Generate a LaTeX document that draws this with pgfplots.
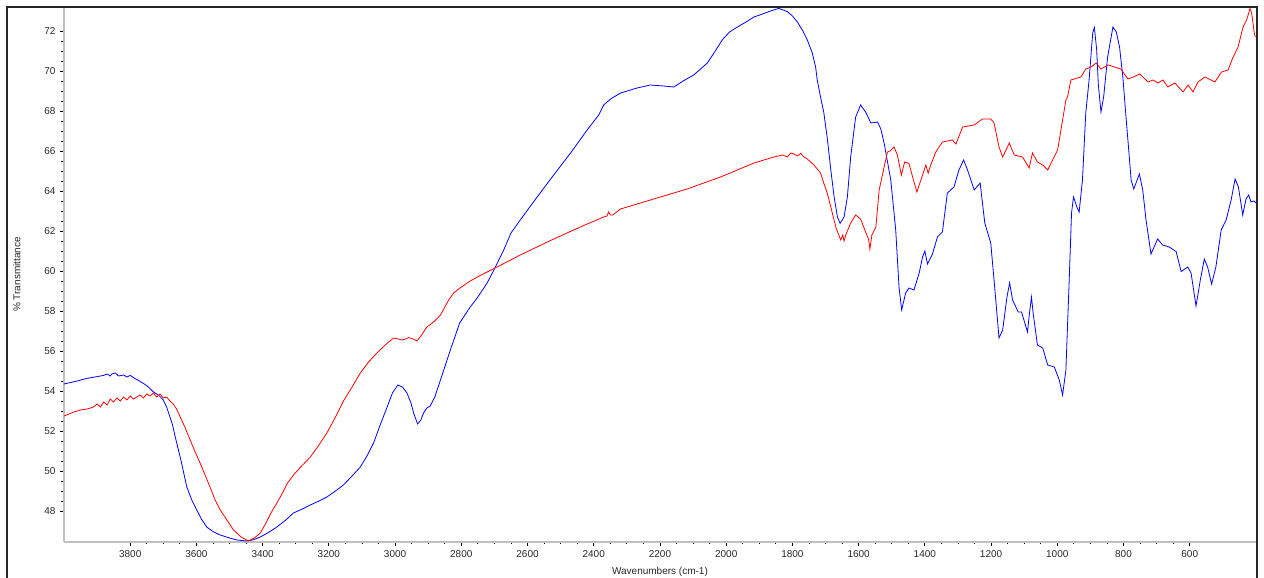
\documentclass[border=0pt]{standalone}
\usepackage{fontspec}
\setmainfont{Liberation Sans}
\usepackage{pgfplots}
\pgfplotsset{compat=1.18}
\definecolor{axgray}{RGB}{192,192,192}
\definecolor{lblgray}{RGB}{40,40,40}
\begin{document}
\begin{tikzpicture}
\path[use as bounding box] (0pt,0pt) rectangle (1264pt,578pt);
\begin{axis}[
  at={(64pt,36pt)}, anchor=south west,
  scale only axis, width=1192pt, height=535pt,
  x dir=reverse,
  xmin=400, xmax=4000, ymin=46.45, ymax=73.2,
  axis x line*=bottom, axis y line*=left,
  axis line style={axgray, line width=2.5pt, -},
  xtick={600,800,...,3800}, ytick={48,50,...,72},
  minor x tick num=3, minor y tick num=3,
  tick align=outside,
  major tick length=4pt, minor tick length=2.5pt,
  tick style={black, line width=0.8pt},
  /pgf/number format/assume math mode=true,
  /pgf/number format/1000 sep={},
  ticklabel style={font=\fontsize{10}{12}\selectfont, text=lblgray},
  xticklabel style={yshift=-1pt},
  yticklabel style={xshift=-1pt},
  xlabel={Wavenumbers (cm-1)},
  ylabel={\% Transmittance},
  label style={font=\fontsize{10}{12}\selectfont, text=lblgray},
  xlabel style={at={(axis description cs:0.5,0)}, anchor=north, yshift=-22pt},
  ylabel style={at={(axis description cs:0,0.5)}, anchor=south, xshift=0pt, yshift=40pt},
  clip=true,
]
\addplot[color={rgb,255:red,0;green,0;blue,255}, line width=0.8pt] coordinates {
(4000,54.35)(3992,54.38)(3960,54.5)(3931,54.63)(3900,54.72)(3880,54.78)(3870,54.85)(3860,54.75)(3856,54.85)(3845,54.9)(3835,54.75)(3820,54.8)(3810,54.7)(3800,54.78)(3785,54.62)(3760,54.38)(3745,54.2)(3731,53.97)(3715,53.8)(3700,53.55)(3690,53.2)(3680,52.7)(3672,52.3)(3664,51.7)(3649,50.7)(3629,49.2)(3614,48.55)(3599,48.05)(3585,47.6)(3569,47.2)(3548,46.95)(3528,46.8)(3500,46.65)(3478,46.55)(3448,46.5)(3430,46.55)(3407,46.7)(3380,46.95)(3357,47.2)(3330,47.55)(3307,47.9)(3280,48.1)(3256,48.3)(3230,48.5)(3206,48.7)(3180,49.0)(3156,49.3)(3130,49.75)(3105,50.2)(3085,50.75)(3065,51.4)(3045,52.3)(3024,53.2)(3008,53.9)(2992,54.3)(2978,54.2)(2964,53.9)(2952,53.4)(2944,52.9)(2932,52.35)(2922,52.55)(2914,52.9)(2904,53.15)(2894,53.25)(2880,53.7)(2863,54.55)(2848,55.3)(2833,56.05)(2805,57.4)(2773,58.2)(2750,58.7)(2722,59.4)(2700,60.1)(2672,61.05)(2650,61.9)(2622,62.55)(2571,63.7)(2521,64.8)(2470,65.9)(2420,67.05)(2385,67.8)(2370,68.3)(2349,68.6)(2319,68.9)(2269,69.15)(2229,69.3)(2190,69.25)(2158,69.2)(2130,69.5)(2098,69.8)(2057,70.4)(2035,70.95)(2012,71.55)(1990,71.95)(1966,72.2)(1940,72.45)(1916,72.7)(1890,72.85)(1866,73.0)(1841,73.13)(1815,72.97)(1800,72.75)(1785,72.45)(1770,72.05)(1755,71.55)(1740,70.9)(1730,70.2)(1725,69.55)(1715,68.7)(1705,67.9)(1694,66.55)(1684,65.05)(1674,63.7)(1664,62.7)(1656,62.38)(1644,62.7)(1634,63.7)(1624,65.7)(1609,67.7)(1594,68.3)(1579,67.95)(1563,67.4)(1543,67.45)(1533,67.1)(1523,66.4)(1503,64.55)(1488,62.05)(1478,59.2)(1470,58.05)(1458,58.9)(1448,59.15)(1433,59.05)(1417,59.9)(1407,60.7)(1400,61.0)(1392,60.35)(1377,60.85)(1362,61.7)(1347,61.95)(1332,63.9)(1312,64.2)(1297,65.05)(1283,65.55)(1271,65.05)(1251,64.05)(1233,64.4)(1219,62.4)(1201,61.4)(1191,59.55)(1176,56.65)(1165,57.05)(1152,58.7)(1144,59.4)(1135,58.55)(1118,57.95)(1108,57.95)(1090,56.95)(1084,57.9)(1078,58.7)(1073,57.9)(1060,56.3)(1044,56.15)(1029,55.3)(1009,55.2)(994,54.55)(984,53.8)(974,55.05)(964,59.55)(957,62.9)(951,63.7)(941,63.2)(934,62.95)(924,64.55)(914,67.9)(904,69.55)(893,71.9)(888,72.18)(881,71.05)(876,69.3)(868,67.95)(860,68.7)(848,70.7)(832,72.2)(822,71.96)(812,71.2)(802,69.7)(792,67.6)(784,66.0)(777,64.55)(769,64.1)(752,64.85)(742,64.05)(732,62.55)(717,60.85)(697,61.6)(682,61.3)(662,61.2)(641,60.97)(626,59.97)(606,60.2)(596,59.9)(581,58.25)(568,59.55)(556,60.6)(546,60.2)(534,59.35)(521,60.2)(505,62.05)(490,62.55)(475,63.55)(463,64.6)(453,64.2)(440,62.8)(430,63.6)(422,63.8)(415,63.45)(406,63.5)(400,63.4)
};
\addplot[color={rgb,255:red,255;green,0;blue,0}, line width=0.8pt] coordinates {
(4000,52.75)(3992,52.8)(3970,52.95)(3950,53.05)(3930,53.1)(3911,53.2)(3900,53.35)(3890,53.2)(3880,53.45)(3870,53.3)(3860,53.6)(3851,53.45)(3840,53.65)(3830,53.5)(3820,53.7)(3810,53.55)(3800,53.75)(3790,53.6)(3780,53.7)(3770,53.8)(3760,53.65)(3750,53.85)(3740,53.75)(3730,53.9)(3720,53.7)(3710,53.85)(3700,53.65)(3690,53.7)(3680,53.5)(3670,53.35)(3660,53.1)(3649,52.7)(3635,52.2)(3619,51.55)(3605,51.0)(3589,50.4)(3575,49.85)(3559,49.2)(3545,48.6)(3528,48.05)(3510,47.6)(3488,47.05)(3465,46.7)(3443,46.5)(3425,46.65)(3407,46.9)(3390,47.4)(3375,47.9)(3357,48.4)(3340,48.9)(3325,49.4)(3307,49.8)(3285,50.2)(3256,50.7)(3230,51.3)(3206,51.9)(3180,52.7)(3156,53.5)(3130,54.2)(3105,54.9)(3080,55.45)(3055,55.9)(3030,56.3)(3005,56.65)(2990,56.6)(2979,56.55)(2968,56.6)(2959,56.67)(2945,56.6)(2934,56.5)(2920,56.8)(2904,57.2)(2880,57.5)(2863,57.8)(2838,58.55)(2823,58.9)(2800,59.2)(2773,59.5)(2740,59.8)(2692,60.2)(2622,60.8)(2521,61.6)(2420,62.35)(2370,62.7)(2360,62.75)(2355,62.95)(2350,62.8)(2343,62.8)(2319,63.1)(2219,63.6)(2118,64.1)(2017,64.7)(1916,65.4)(1856,65.7)(1830,65.8)(1815,65.7)(1805,65.9)(1795,65.85)(1785,65.75)(1775,65.88)(1765,65.7)(1755,65.6)(1745,65.45)(1735,65.3)(1725,65.1)(1715,64.9)(1705,64.38)(1695,63.9)(1684,63.2)(1675,62.6)(1669,62.2)(1660,61.8)(1654,61.55)(1648,61.8)(1644,61.5)(1639,61.8)(1624,62.4)(1609,62.8)(1594,62.6)(1579,61.95)(1570,61.6)(1566,61.1)(1560,61.8)(1548,62.2)(1538,64.05)(1523,65.2)(1513,65.95)(1505,66.0)(1493,66.2)(1483,65.8)(1471,64.8)(1461,65.45)(1448,65.38)(1437,64.7)(1424,63.95)(1412,64.55)(1397,65.3)(1390,64.9)(1382,65.3)(1367,65.95)(1347,66.45)(1317,66.55)(1306,66.35)(1286,67.2)(1251,67.3)(1226,67.6)(1201,67.6)(1191,67.4)(1176,66.2)(1165,65.7)(1145,66.4)(1130,65.8)(1105,65.7)(1085,65.15)(1075,65.9)(1060,65.45)(1044,65.3)(1029,65.05)(1014,65.55)(999,66.05)(984,67.55)(974,68.55)(969,68.7)(959,69.55)(929,69.7)(914,70.1)(898,70.2)(883,70.4)(868,70.1)(847,70.3)(827,70.2)(808,70.1)(787,69.6)(770,69.7)(751,69.85)(726,69.45)(711,69.55)(696,69.4)(681,69.55)(666,69.2)(645,69.4)(620,68.95)(605,69.3)(590,68.95)(575,69.45)(554,69.7)(524,69.45)(504,69.95)(484,70.05)(469,70.7)(454,71.2)(439,72.2)(428,72.55)(418,73.13)(413,72.9)(405,71.9)(402,71.7)
};
\end{axis}
\draw[black!85, line width=1.2pt] (7pt,0pt) -- (7pt,571pt) -- (1257pt,571pt) -- (1257pt,0pt);
\end{tikzpicture}
\end{document}
